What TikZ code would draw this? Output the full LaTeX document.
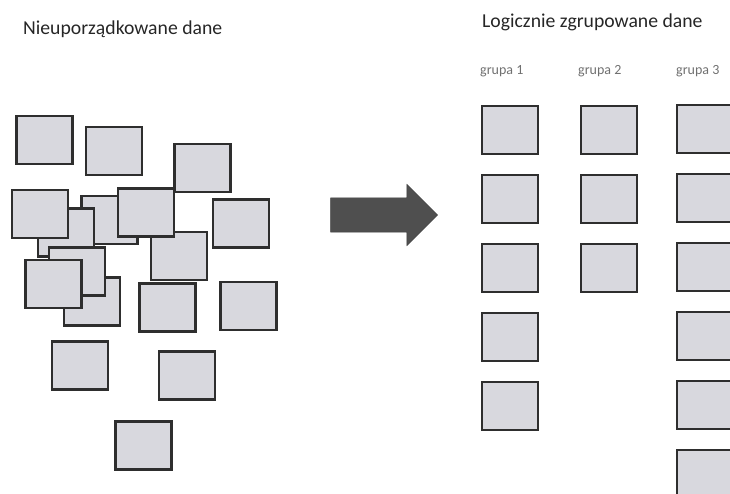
\documentclass[tikz,border=0pt]{standalone}
\usepackage{fontspec}
\setmainfont{Carlito}
\usetikzlibrary{shapes.arrows}
\definecolor{kafelfill}{HTML}{D8D8DE}
\definecolor{kafelline}{HTML}{2E2E2E}
\definecolor{strzalkafill}{HTML}{4F4F4F}
\definecolor{tytulcol}{HTML}{262626}
\definecolor{grupacol}{HTML}{707070}
\begin{document}
\begin{tikzpicture}[x=1pt,y=-1pt,
kafel/.style={draw=kafelline, fill=kafelfill, line width=2.6pt,
  minimum width=56pt, minimum height=48pt, inner sep=0pt},
tytul/.style={anchor=base west, text=tytulcol, inner sep=0pt,
  font=\fontsize{19.7}{22}\selectfont},
grupa/.style={anchor=base west, text=grupacol, inner sep=0pt,
  font=\fontsize{14}{16}\selectfont},
strzalka/.style={single arrow, draw=strzalkafill!80!black, fill=strzalkafill,
  minimum height=107pt, inner xsep=0pt, inner ysep=17pt,
  single arrow head extend=13.5pt, single arrow tip angle=90}
]
\clip (0,0) rectangle (730,494);

\node[tytul] (t1) at (23,35) {Nieuporządkowane dane};
\node[tytul] (t2) at (482,28) {Logicznie zgrupowane dane};

% nieuporzadkowane
\foreach \Pos [count=\Val] in {(44.5,140),(114,151),(202.5,168),(109.5,220),
  (66,232.5),(40,214),(179,256),(146,212.5),(241,223.5),(92,301.5),
  (77,271.5),(53.5,284),(167.5,307.5),(248.5,306),(80,365.5),
  (187,375.5),(143.5,445.5)}
  \node[kafel] (l\Val) at \Pos {};

\node[strzalka] (s) at (375.5,215) {};

% grupy
\node[grupa] (g1) at (480,75) {grupa 1};
\node[grupa] (g2) at (578,75) {grupa 2};
\node[grupa] (g3) at (676,75) {grupa 3};
\foreach \Val in {1,...,5}
  \node[kafel] (a\Val) at (510,{130+69*(\Val-1)}) {};
\foreach \Val in {1,...,3}
  \node[kafel] (b\Val) at (609,{130+69*(\Val-1)}) {};
\foreach \Val in {1,...,6}
  \node[kafel] (c\Val) at (705,{129+69*(\Val-1)}) {};

\end{tikzpicture}
\end{document}
